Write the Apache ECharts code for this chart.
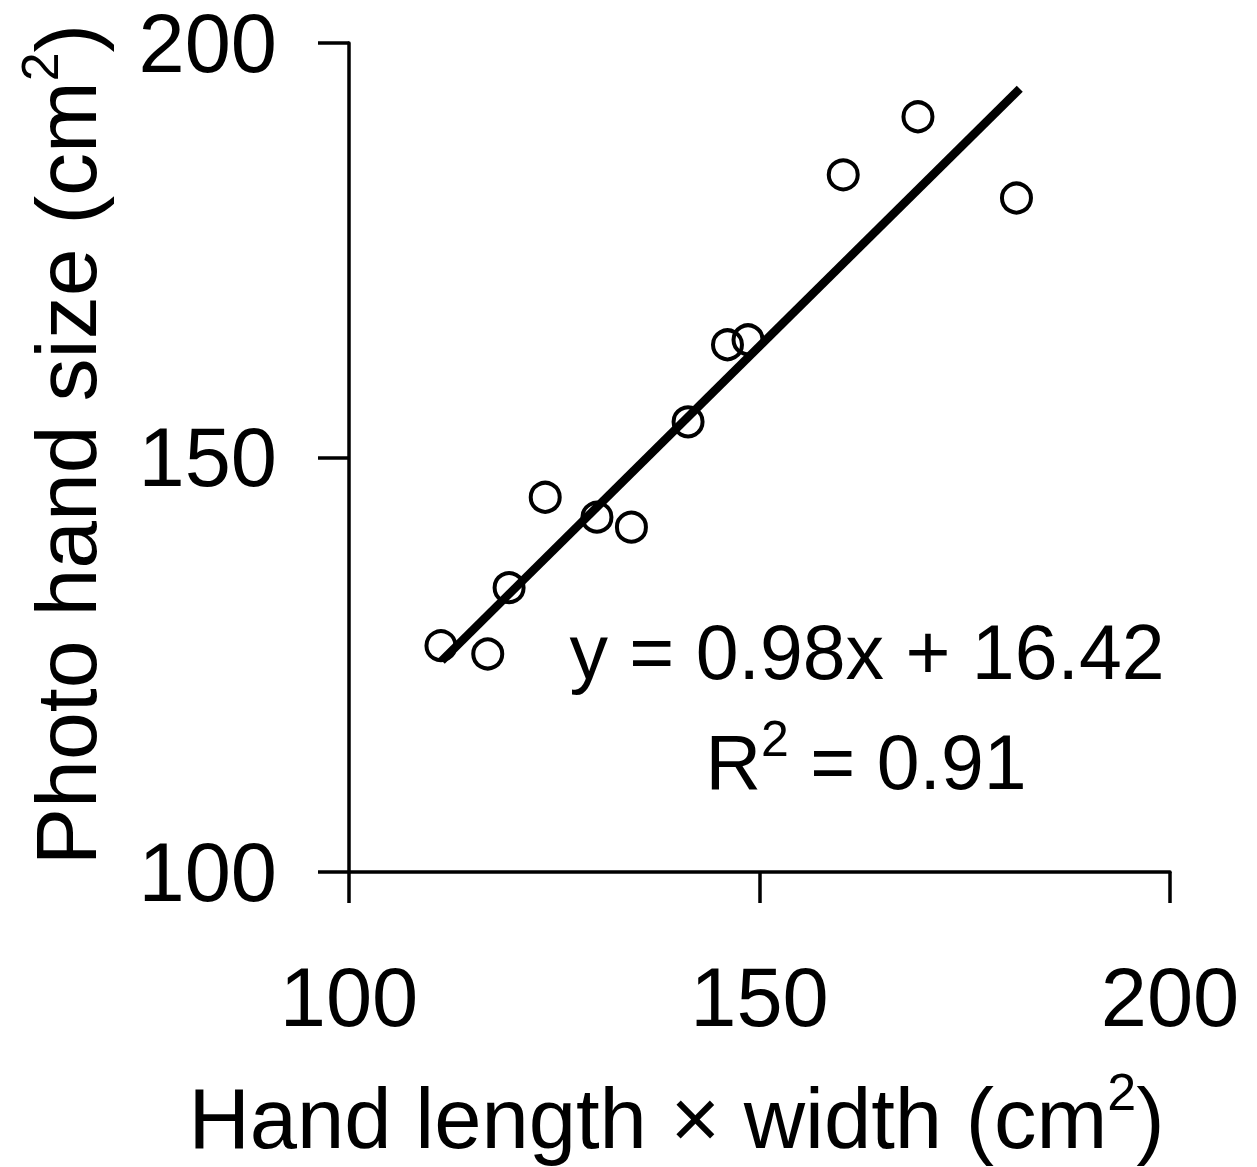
<!DOCTYPE html>
<html>
<head>
<meta charset="utf-8">
<script src="https://cdn.jsdelivr.net/npm/echarts@6/dist/echarts.min.js"></script>
<style>
  html, body { margin: 0; padding: 0; background: #fff; }
  #chart { width: 1257px; height: 1167px; }
</style>
</head>
<body>
<div id="chart"></div>
<script>
// measured hand size vs photo hand size
var handArea = [111.2, 116.9, 119.5, 123.9, 130.2, 134.4, 141.3, 146.1, 148.6, 160.2, 169.3, 181.3];
var photoArea = [127.3, 126.3, 134.3, 145.2, 142.8, 141.6, 154.3, 163.6, 164.2, 184.1, 191.1, 181.3];

// regression y = 0.98x + 16.42, drawn over the data range
var slope = 0.98;
var intercept = 16.42;
var fitRange = [111.3, 181.7];

var xTicks = [100, 150, 200];
var yTicks = [100, 150, 200];

var FONT = "'Liberation Sans', Arial, sans-serif";

var points = handArea.map(function (x, i) { return [x, photoArea[i]]; });
var fitLine = fitRange.map(function (x) { return [x, slope * x + intercept]; });

var chart = echarts.init(document.getElementById('chart'), null, { renderer: 'svg' });

var option = {
    backgroundColor: '#fff',
    animation: false,
    textStyle: { fontFamily: FONT, color: '#000' },
    grid: {
        left: 349,
        right: 87,
        top: 43,
        bottom: 295,
        containLabel: false
    },
    xAxis: {
        type: 'value',
        min: xTicks[0],
        max: xTicks[xTicks.length - 1],
        interval: xTicks[1] - xTicks[0],
        splitLine: { show: false },
        axisLine: { lineStyle: { color: '#000', width: 3.5 } },
        axisTick: { length: 31, lineStyle: { color: '#000', width: 3.5 } },
        axisLabel: { fontSize: 83, fontFamily: FONT, color: '#000', margin: 84 },
        name: '{a|Hand length × width (cm}{s|2}{a|)}',
        nameLocation: 'middle',
        nameGap: 194,
        nameTextStyle: {
            padding: [0, 166, 0, 0],
            rich: {
                a: { fontSize: 85, fontFamily: FONT, color: '#000', lineHeight: 95, verticalAlign: 'bottom' },
                s: { fontSize: 52, fontFamily: FONT, color: '#000', lineHeight: 52, verticalAlign: 'top' }
            }
        }
    },
    yAxis: {
        type: 'value',
        min: yTicks[0],
        max: yTicks[yTicks.length - 1],
        interval: yTicks[1] - yTicks[0],
        splitLine: { show: false },
        axisLine: { lineStyle: { color: '#000', width: 3.5 } },
        axisTick: { length: 31, lineStyle: { color: '#000', width: 3.5 } },
        axisLabel: { fontSize: 83, lineHeight: 64, fontFamily: FONT, color: '#000', margin: 72 },
        name: '{a|Photo hand size (cm}{s|2}{a|)}',
        nameLocation: 'middle',
        nameGap: 240,
        nameTextStyle: {
            padding: [0, 0, 0, 26],
            rich: {
                a: { fontSize: 86, fontFamily: FONT, color: '#000', lineHeight: 95, verticalAlign: 'bottom' },
                s: { fontSize: 52, fontFamily: FONT, color: '#000', lineHeight: 52, verticalAlign: 'top' }
            }
        }
    },
    graphic: [
        {
            type: 'text',
            x: 867,
            y: 652,
            style: {
                text: 'y = 0.98x + 16.42',
                font: '77px ' + FONT,
                fill: '#000',
                align: 'center',
                verticalAlign: 'middle'
            }
        },
        {
            type: 'text',
            x: 866,
            y: 757,
            style: {
                text: '{a|R}{s|2}{a| = 0.91}',
                fill: '#000',
                align: 'center',
                verticalAlign: 'middle',
                rich: {
                    a: { fontSize: 77, fontFamily: FONT, fill: '#000', lineHeight: 86, verticalAlign: 'bottom' },
                    s: { fontSize: 50, fontFamily: FONT, fill: '#000', lineHeight: 50, verticalAlign: 'top' }
                }
            }
        }
    ],
    series: [
        {
            type: 'line',
            data: fitLine,
            symbol: 'none',
            lineStyle: { color: '#000', width: 8.5 },
            z: 2
        },
        {
            type: 'scatter',
            data: points,
            symbol: 'circle',
            symbolSize: 29,
            itemStyle: { color: 'rgba(255,255,255,0)', borderColor: '#000', borderWidth: 4, opacity: 1 },
            z: 3
        }
    ]
};

chart.setOption(option);
</script>
</body>
</html>
